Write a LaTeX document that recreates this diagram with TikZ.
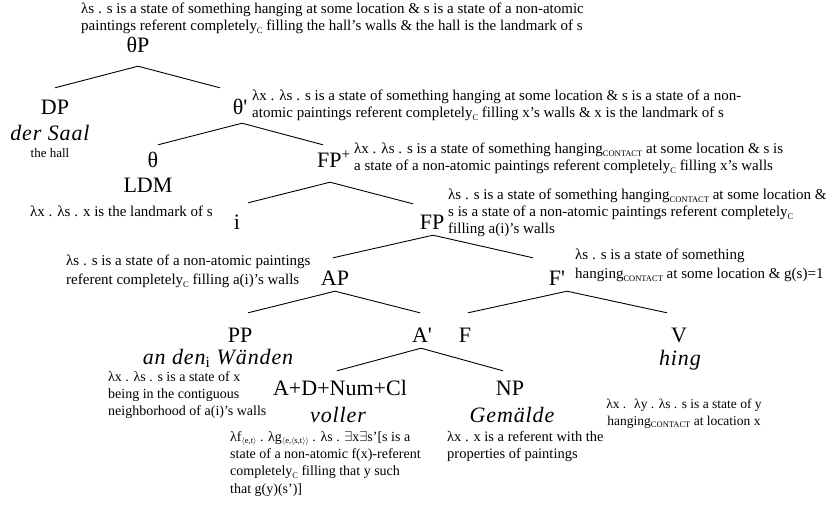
\documentclass[tikz,border=0pt]{standalone}
\usepackage{fontspec}
\setmainfont{Liberation Serif}
\newfontfamily\primefont{Liberation Serif}
\newfontfamily\wordfont{Liberation Serif Italic}[LetterSpace=4]
\newcommand\pr{{\primefont\symbol{39}}}
\newcommand\lsub[1]{\raisebox{-0.35ex}{\fontsize{8.5}{8.5}\selectfont #1}}
\newcommand\cC{\lsub{C}}
\newcommand\contact{\lsub{CONTACT}}
\begin{document}
\begin{tikzpicture}[x=1pt,y=-1pt,
  cat/.style={font=\fontsize{22}{22}\selectfont, inner sep=0pt, text height=15pt, text depth=1pt},
  word/.style={font=\fontsize{22}{22}\selectfont\wordfont, inner sep=0pt},
  sem/.style={font=\fontsize{15}{17}\selectfont, inner sep=0pt, align=left, anchor=north west},
  semwide/.style={sem, font=\fontsize{15}{19}\selectfont},
  semsmall/.style={sem, font=\fontsize{14}{17.3}\selectfont},
  branch/.style={line width=0.9pt}]
\useasboundingbox (0,0) rectangle (832,509);

% semantic labels
\node[sem] (Ltop) at (81,3) {λs . s is a state of something hanging at some location \& s is a state of a non-atomic\\paintings referent completely\cC{} filling the hall’s walls \& the hall is the landmark of s};
\node[sem] (Ltb) at (252,90) {λx . λs . s is a state of something hanging at some location \& s is a state of a non-\\atomic paintings referent completely\cC{} filling x’s walls \& x is the landmark of s};
\node[sem] (Lfpp) at (354,143) {λx . λs . s is a state of something hanging\contact{} at some location \& s is\\a state of a non-atomic paintings referent completely\cC{} filling x’s walls};
\node[sem] (Lfp) at (448,189) {λs . s is a state of something hanging\contact{} at some location \&\\s is a state of a non-atomic paintings referent completely\cC\\filling a(i)’s walls};
\node[sem] (Lldm) at (30,206) {λx . λs . x is the landmark of s};
\node[semwide] (Lap) at (66,255) {λs . s is a state of a non-atomic paintings\\referent completely\cC{} filling a(i)’s walls};
\node[semwide] (Lfb) at (575,249) {λs . s is a state of something\\hanging\contact{} at some location \& g(s)=1};
\node[semsmall] (Lpp) at (108,371) {λx . λs . s is a state of x\\being in the contiguous\\neighborhood of a(i)’s walls};
\node[semsmall, font=\fontsize{13.5}{16.5}\selectfont, anchor=north, align=center] (Lv) at (684,399) {λx . \ λy . λs . s is a state of y\\hanging\contact{} at location x};
\node[semsmall] (Ladn) at (230,431) {λf\lsub{$\langle$e,t$\rangle$} . λg\lsub{$\langle$e,$\langle$s,t$\rangle\rangle$} . λs . $\exists$x$\exists$s’[s is a\\state of a non-atomic f(x)-referent\\completely\cC{} filling that y such\\that g(y)(s’)]};
\node[semsmall, font=\fontsize{14.5}{17.5}\selectfont] (Lnp) at (447,431) {λx . x is a referent with the\\properties of paintings};
\node[font=\fontsize{13}{13}\selectfont, inner sep=0pt] (hall) at (50,153) {the hall};

% categories
\node[cat] (thetaP) at (138,45) {θP};
\node[cat] (DP) at (55,107) {DP};
\node[cat] (thetab) at (240,107) {θ\pr};
\node[cat] (theta) at (153,160) {θ};
\node[cat] (FPp) at (334,160) {FP\textsuperscript{+}};
\node[cat] (LDM) at (148,185) {LDM};
\node[cat] (i) at (237,222) {i};
\node[cat] (FP) at (432,222) {FP};
\node[cat] (AP) at (335,278) {AP};
\node[cat] (Fb) at (557,278) {F\pr};
\node[cat] (PP) at (240,335) {PP};
\node[cat] (Ab) at (422,335) {A\pr};
\node[cat] (F) at (465,335) {F};
\node[cat] (V) at (679,335) {V};
\node[cat] (ADNC) at (340,388) {A+D+Num+Cl};
\node[cat] (NP) at (510,388) {NP};

% words
\node[word] (saal) at (50,133) {der Saal};
\node[word] (anden) at (218,358) {an den\textsubscript{\primefont i} Wänden};
\node[word] (voller) at (338,415) {voller};
\node[word] (gem) at (512,415) {Gemälde};
\node[word] (hing) at (680,360) {hing};

% branches
\draw[branch] ([yshift=-13pt]thetaP.south) -- ([yshift=11pt]DP.north);
\draw[branch] ([yshift=-13pt]thetaP.south) -- ([xshift=-20pt,yshift=11pt]thetab.north);
\draw[branch] ([xshift=2pt,yshift=-8pt]thetab.south) -- ([xshift=5pt,yshift=7pt]theta.north);
\draw[branch] ([xshift=2pt,yshift=-8pt]thetab.south) -- ([xshift=-11pt,yshift=7pt]FPp.north);
\draw[branch] ([xshift=-4pt,yshift=-14pt]FPp.south) -- ([xshift=11pt,yshift=11pt]i.north);
\draw[branch] ([xshift=-4pt,yshift=-14pt]FPp.south) -- ([xshift=-19pt,yshift=10pt]FP.north);
\draw[branch] ([xshift=1pt,yshift=-5pt]FP.south) -- ([xshift=-2pt,yshift=12pt]AP.north);
\draw[branch] ([xshift=1pt,yshift=-5pt]FP.south) -- ([xshift=-24pt,yshift=12pt]Fb.north);
\draw[branch] ([yshift=-5pt]AP.south) -- ([xshift=8pt,yshift=14pt]PP.north);
\draw[branch] ([yshift=-5pt]AP.south) -- ([xshift=-2pt,yshift=14pt]Ab.north);
\draw[branch] ([xshift=10pt,yshift=-5pt]Fb.south) -- ([xshift=3pt,yshift=14pt]F.north);
\draw[branch] ([xshift=10pt,yshift=-5pt]Fb.south) -- ([xshift=-12pt,yshift=14pt]V.north);
\draw[branch] ([xshift=-1pt,yshift=-5pt]Ab.south) -- ([xshift=-3pt,yshift=9pt]ADNC.north);
\draw[branch] ([xshift=-1pt,yshift=-5pt]Ab.south) -- ([xshift=-7pt,yshift=9pt]NP.north);
\end{tikzpicture}
\end{document}
